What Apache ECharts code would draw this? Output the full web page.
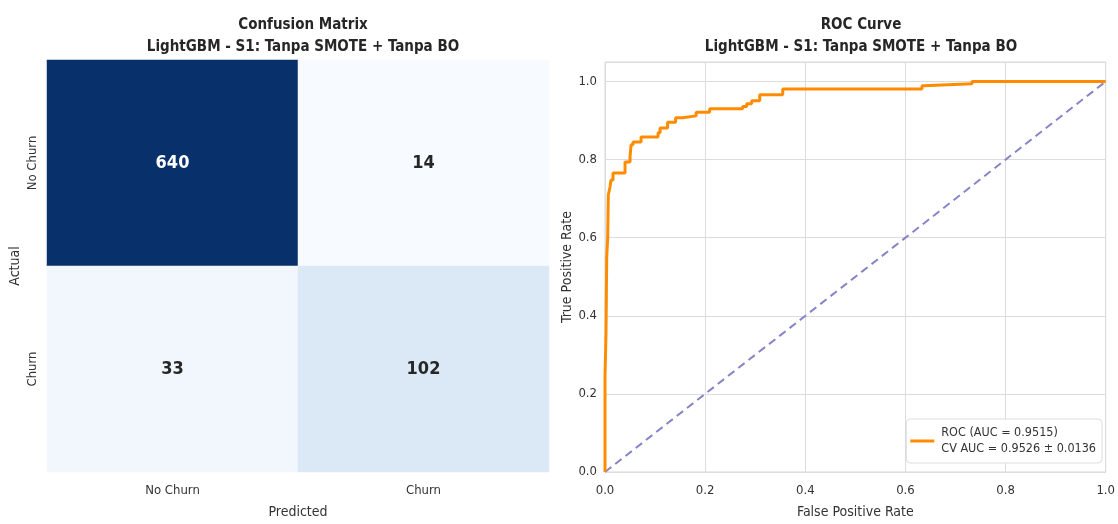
<!DOCTYPE html>
<html>
<head>
    <meta charset="utf-8">
    <title>LightGBM - S1</title>
    <script src="https://cdn.jsdelivr.net/npm/echarts@6/dist/echarts.min.js"></script>
    <style type="text/css">
        html, body { margin: 0; padding: 0; background: #fff; }
        #main { width: 1118px; height: 524px; }
    </style>
</head>
<body>
    <div id="main"></div>
    <script type="text/javascript">
        // confusion matrix
        var predLabels = ['No Churn', 'Churn'];
        var actualLabels = ['Churn', 'No Churn'];   // bottom to top
        var cmNoChurn = [640, 14];
        var cmChurn = [33, 102];

        // roc curve corners (fpr where tpr jumps)
        var fpr = [0, 0, 0.002, 0.0034, 0.0054, 0.0066, 0.010, 0.012, 0.016, 0.040, 0.050, 0.052, 0.056,
                   0.072, 0.106, 0.110, 0.125, 0.141, 0.155, 0.182, 0.209, 0.275, 0.283, 0.293, 0.309,
                   0.355, 0.633, 0.637, 0.733, 1.0];
        var tpr = [0, 0.243, 0.356, 0.55, 0.60, 0.71, 0.73, 0.748, 0.766, 0.794, 0.807, 0.838, 0.845,
                   0.858, 0.869, 0.881, 0.896, 0.907, 0.912, 0.921, 0.930, 0.936, 0.943, 0.951, 0.966,
                   0.981, 0.989, 0.994, 1.0, 1.0];
        var chanceX = [0, 1];
        var chanceY = [0, 1];
        var rocName = 'ROC (AUC = 0.9515)\nCV AUC = 0.9526 ± 0.0136';

        var blues = ['#f7fbff', '#deebf7', '#c6dbef', '#9ecae1', '#6baed6', '#4292c6', '#2171b5', '#08519c', '#08306b'];
        var font = '"DejaVu Sans Condensed", "Liberation Sans Narrow", "DejaVu Sans", sans-serif';

        var cmMin = Math.min.apply(null, cmNoChurn.concat(cmChurn));
        var cmMax = Math.max.apply(null, cmNoChurn.concat(cmChurn));
        var cmData = [];
        function addRow(row, yName) {
            row.forEach(function (v, i) {
                cmData.push({
                    value: [predLabels[i], yName, v],
                    label: { color: v > (cmMin + cmMax) / 2 ? '#ffffff' : '#262626' }
                });
            });
        }
        addRow(cmNoChurn, 'No Churn');
        addRow(cmChurn, 'Churn');

        var rocData = fpr.map(function (x, i) { return [x, tpr[i]]; });
        var chanceData = chanceX.map(function (x, i) { return [x, chanceY[i]]; });

        var chart = echarts.init(document.getElementById('main'));
        var option = {
            backgroundColor: '#ffffff',
            animation: false,
            textStyle: { fontFamily: font },
            title: [
                {
                    text: 'Confusion Matrix\nLightGBM - S1: Tanpa SMOTE + Tanpa BO',
                    left: 298, top: 9, textAlign: 'center',
                    textStyle: { fontFamily: font, fontSize: 15, fontWeight: 'bold', color: '#262626', lineHeight: 22 }
                },
                {
                    text: 'ROC Curve\nLightGBM - S1: Tanpa SMOTE + Tanpa BO',
                    left: 856, top: 9, textAlign: 'center',
                    textStyle: { fontFamily: font, fontSize: 15, fontWeight: 'bold', color: '#262626', lineHeight: 22 }
                }
            ],
            grid: [
                { left: 47, right: 569, top: 60, bottom: 52 },
                { left: 605, right: 11, top: 62, bottom: 52, show: true, borderColor: '#d6d6d6', borderWidth: 1 }
            ],
            visualMap: {
                show: false, seriesIndex: 0, dimension: 2,
                min: cmMin, max: cmMax,
                inRange: { color: blues }
            },
            legend: {
                right: 16, bottom: 61,
                orient: 'vertical',
                data: [rocName],
                icon: 'rect', itemWidth: 24, itemHeight: 3, itemGap: 7,
                backgroundColor: '#ffffff',
                borderColor: '#dddddd', borderWidth: 1, borderRadius: 4,
                padding: [6, 6, 6, 4],
                textStyle: { fontFamily: font, fontSize: 12.5, color: '#333333', lineHeight: 16, padding: [0, 0, 0, 2] }
            },
            xAxis: [
                {
                    gridIndex: 0, type: 'category', data: predLabels,
                    axisLine: { show: false }, axisTick: { show: false }, splitLine: { show: false },
                    axisLabel: { fontFamily: font, fontSize: 13, color: '#333333', margin: 12 },
                    name: 'Predicted', nameLocation: 'middle', nameGap: 33,
                    nameTextStyle: { fontFamily: font, fontSize: 14, color: '#333333' }
                },
                {
                    gridIndex: 1, type: 'value', min: 0, max: 1, interval: 0.2,
                    axisLine: { show: false }, axisTick: { show: false },
                    splitLine: { lineStyle: { color: '#dcdcdc', width: 1 } },
                    axisLabel: { fontFamily: font, fontSize: 13, color: '#333333', margin: 12,
                                 formatter: function (v) { return v.toFixed(1); } },
                    name: 'False Positive Rate', nameLocation: 'middle', nameGap: 33,
                    nameTextStyle: { fontFamily: font, fontSize: 14, color: '#333333' }
                }
            ],
            yAxis: [
                {
                    gridIndex: 0, type: 'category', data: actualLabels,
                    axisLine: { show: false }, axisTick: { show: false }, splitLine: { show: false },
                    axisLabel: { fontFamily: font, fontSize: 13, color: '#333333', rotate: 90, margin: 8 },
                    name: 'Actual', nameLocation: 'middle', nameGap: 25, nameRotate: 90,
                    nameTextStyle: { fontFamily: font, fontSize: 14, color: '#333333' }
                },
                {
                    gridIndex: 1, type: 'value', min: 0, max: 1.05, interval: 0.2,
                    axisLine: { show: false }, axisTick: { show: false },
                    splitLine: { lineStyle: { color: '#dcdcdc', width: 1 } },
                    axisLabel: { fontFamily: font, fontSize: 13, color: '#333333', margin: 8, showMaxLabel: false,
                                 formatter: function (v) { return v.toFixed(1); } },
                    name: 'True Positive Rate', nameLocation: 'middle', nameGap: 30, nameRotate: 90,
                    nameTextStyle: { fontFamily: font, fontSize: 14, color: '#333333' }
                }
            ],
            series: [
                {
                    type: 'heatmap', xAxisIndex: 0, yAxisIndex: 0,
                    data: cmData,
                    label: { show: true, fontFamily: font, fontSize: 18, fontWeight: 'bold',
                             formatter: function (p) { return p.value[2]; } },
                    itemStyle: { borderWidth: 0 },
                    emphasis: { disabled: true }
                },
                {
                    name: 'chance', type: 'line', xAxisIndex: 1, yAxisIndex: 1,
                    data: chanceData, symbol: 'none',
                    lineStyle: { color: '#8585c6', width: 2, type: [8, 5] },
                    z: 2
                },
                {
                    name: rocName, type: 'line', xAxisIndex: 1, yAxisIndex: 1,
                    data: rocData, step: 'end', symbol: 'none',
                    lineStyle: { color: '#ff8c00', width: 3 },
                    itemStyle: { color: '#ff8c00' },
                    z: 3
                }
            ]
        };
        chart.setOption(option);
    </script>
</body>
</html>
